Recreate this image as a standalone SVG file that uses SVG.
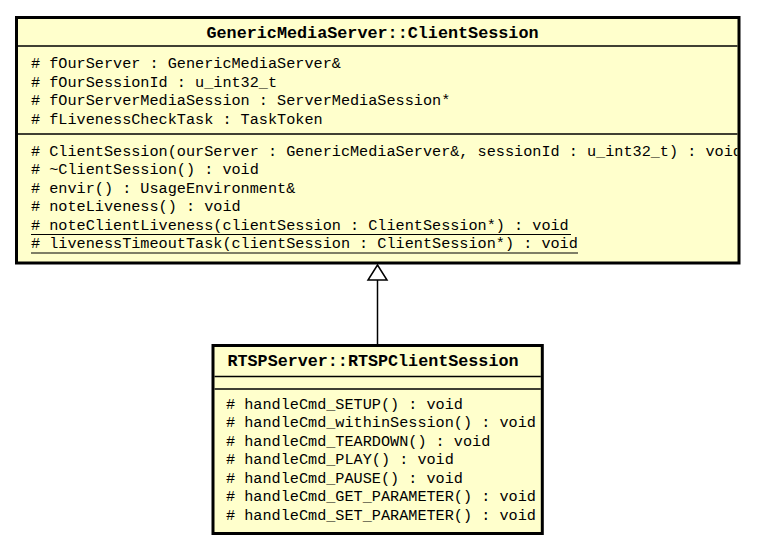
<svg xmlns="http://www.w3.org/2000/svg" width="758" height="548" viewBox="0 0 758 548">
<style>
.box{fill:#FFFFCC;stroke:#000;stroke-width:3}
.sep{stroke:#000;stroke-width:1.5;fill:none}
.ul{stroke:#000;stroke-width:1.2;fill:none}
.title{font-family:"Liberation Mono","DejaVu Sans Mono",monospace;font-weight:bold;font-size:16.7px;fill:#000}
.mem{font-family:"Liberation Mono","DejaVu Sans Mono",monospace;font-size:15.2px;fill:#000}
.edge{stroke:#000;stroke-width:1.5;fill:none}
.head{stroke:#000;stroke-width:1.5;fill:#fff}
</style>
<defs>
<clipPath id="clipTop"><rect x="18" y="19" width="719.5" height="242.5"/></clipPath>
<clipPath id="clipBot"><rect x="214.5" y="347" width="326.3" height="185"/></clipPath>
</defs>
<rect width="758" height="548" fill="#fff"/>
<g id="node-ClientSession">
<rect class="box" x="16.5" y="17.5" width="722.5" height="245.5"/>
<line class="sep" x1="18" y1="46" x2="737.5" y2="46"/>
<line class="sep" x1="18" y1="134" x2="737.5" y2="134"/>
<g clip-path="url(#clipTop)">
<text class="title" x="206.5" y="38" textLength="332" lengthAdjust="spacingAndGlyphs">GenericMediaServer::ClientSession</text>
<text class="mem" x="31" y="68"># fOurServer : GenericMediaServer&amp;</text>
<text class="mem" x="31" y="86.5"># fOurSessionId : u_int32_t</text>
<text class="mem" x="31" y="105"># fOurServerMediaSession : ServerMediaSession*</text>
<text class="mem" x="31" y="123.5"># fLivenessCheckTask : TaskToken</text>
<text class="mem" x="31" y="155.5"># ClientSession(ourServer : GenericMediaServer&amp;, sessionId : u_int32_t) : void</text>
<text class="mem" x="31" y="174"># ~ClientSession() : void</text>
<text class="mem" x="31" y="192.5"># envir() : UsageEnvironment&amp;</text>
<text class="mem" x="31" y="211"># noteLiveness() : void</text>
<text class="mem" x="31" y="229.5"># noteClientLiveness(clientSession : ClientSession*) : void</text>
<text class="mem" x="31" y="248"># livenessTimeoutTask(clientSession : ClientSession*) : void</text>
<line class="ul" x1="31" y1="234.5" x2="571" y2="234.5"/>
<line class="ul" x1="31" y1="253" x2="578" y2="253"/>
</g>
</g>
<g id="node-RTSPClientSession">
<rect class="box" x="213" y="345.5" width="329.3" height="188"/>
<line class="sep" x1="214.5" y1="376.5" x2="540.8" y2="376.5"/>
<line class="sep" x1="214.5" y1="389" x2="540.8" y2="389"/>
<g clip-path="url(#clipBot)">
<text class="title" x="227.5" y="366" textLength="291" lengthAdjust="spacingAndGlyphs">RTSPServer::RTSPClientSession</text>
<text class="mem" x="226" y="408.5"># handleCmd_SETUP() : void</text>
<text class="mem" x="226" y="427"># handleCmd_withinSession() : void</text>
<text class="mem" x="226" y="445.5"># handleCmd_TEARDOWN() : void</text>
<text class="mem" x="226" y="464"># handleCmd_PLAY() : void</text>
<text class="mem" x="226" y="482.5"># handleCmd_PAUSE() : void</text>
<text class="mem" x="226" y="501"># handleCmd_GET_PARAMETER() : void</text>
<text class="mem" x="226" y="519.5"># handleCmd_SET_PARAMETER() : void</text>
</g>
</g>
<g id="connectors">
<line class="edge" x1="377.5" y1="280" x2="377.5" y2="344"/>
<polygon class="head" points="377.5,265 368,280 387,280"/>
</g>
</svg>
